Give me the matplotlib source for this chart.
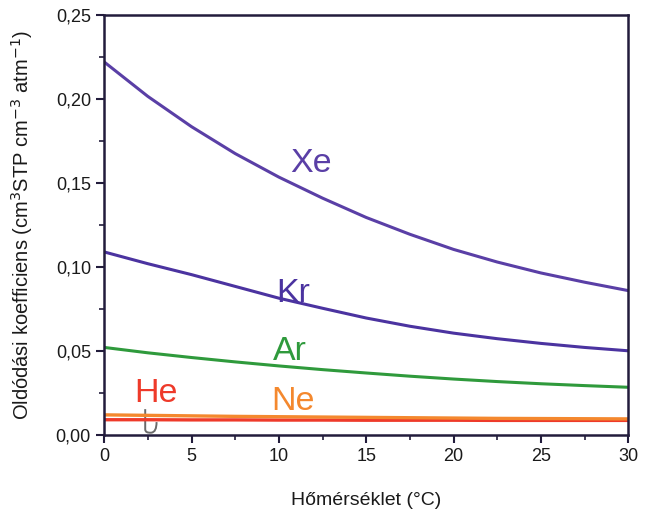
import matplotlib.pyplot as plt
from matplotlib.ticker import MultipleLocator, FuncFormatter
from matplotlib.path import Path
from matplotlib.patches import PathPatch

plt.rcParams['font.family'] = ['Liberation Sans', 'DejaVu Sans']

temp = [0, 2.5, 5, 7.5, 10, 12.5, 15, 17.5, 20, 22.5, 25, 27.5, 30]
xe = [0.222, 0.2015, 0.1835, 0.1675, 0.1535, 0.141, 0.1295, 0.1195,
      0.1105, 0.103, 0.0965, 0.091, 0.086]
kr = [0.109, 0.102, 0.0955, 0.0885, 0.0815, 0.0755, 0.0697, 0.0648,
      0.0607, 0.0574, 0.0546, 0.0522, 0.0502]
ar = [0.0522, 0.049, 0.0462, 0.0436, 0.0412, 0.039, 0.037, 0.0351,
      0.0334, 0.0319, 0.0306, 0.0295, 0.0285]
ne = [0.0121, 0.0118, 0.0115, 0.0112, 0.0110, 0.0108, 0.0106, 0.0104,
      0.0102, 0.0100, 0.0099, 0.0098, 0.0097]
he = [0.0092, 0.0092, 0.0091, 0.0091, 0.0090, 0.0090, 0.0089, 0.0089,
      0.0089, 0.0088, 0.0088, 0.0088, 0.0088]

gases = ['Xe', 'Kr', 'Ar', 'Ne', 'He']
colors = {'Xe': '#5a3fa6', 'Kr': '#4b33a0', 'Ar': '#2f9a3c',
          'Ne': '#f4882e', 'He': '#ee3a2a'}
label_pos = {'Xe': (11.85, 0.1567), 'Kr': (10.82, 0.0792), 'Ar': (10.65, 0.0446),
             'Ne': (10.82, 0.0149), 'He': (2.98, 0.0196)}

fig = plt.figure(figsize=(6.51, 5.12), dpi=100)
ax = fig.add_axes([0.16, 0.150, 0.805, 0.821])

ax.plot(temp, he, color=colors['He'], lw=2.4)
ax.plot(temp, ne, color=colors['Ne'], lw=2.4)
ax.plot(temp, ar, color=colors['Ar'], lw=2.2)
ax.plot(temp, kr, color=colors['Kr'], lw=2.2)
ax.plot(temp, xe, color=colors['Xe'], lw=2.2)

for g in gases:
    x, y = label_pos[g]
    ax.text(x, y, g, color=colors[g], fontsize=24.5, ha='center', va='baseline')

# little hook from the He label down to its line
hook = Path([(2.35, 0.0155), (2.35, 0.0035), (2.35, 0.0012), (2.7, 0.0015),
             (3.0, 0.0018), (3.0, 0.0078)],
            [Path.MOVETO, Path.LINETO, Path.CURVE3, Path.CURVE3,
             Path.CURVE3, Path.CURVE3])
ax.add_patch(PathPatch(hook, fill=False, edgecolor='#6a6a6a', lw=1.4))

ax.set_xlim(0, 30)
ax.set_ylim(0, 0.25)
ax.xaxis.set_major_locator(MultipleLocator(5))
ax.xaxis.set_minor_locator(MultipleLocator(2.5))
ax.yaxis.set_major_locator(MultipleLocator(0.05))
ax.yaxis.set_minor_locator(MultipleLocator(0.025))
ax.yaxis.set_major_formatter(FuncFormatter(lambda v, p: f'{v:.2f}'.replace('.', ',')))

frame = '#221c3c'
for s in ax.spines.values():
    s.set_color(frame)
    s.set_linewidth(1.8)
ax.tick_params(which='both', direction='out', color=frame, top=False, right=False)
ax.tick_params(which='major', length=6, width=1.5, labelsize=13, labelcolor='#1a1a1a')
ax.tick_params(which='minor', length=3.5, width=1.2)

ax.set_xlabel('Hőmérséklet (°C)', fontsize=14, color='#1a1a1a', labelpad=19)
ax.set_ylabel('Oldódási koefficiens (cm$^3$STP cm$^{-3}$ atm$^{-1}$)',
              fontsize=14.5, color='#1a1a1a', labelpad=15)

fig.savefig('out.png', dpi=100)
